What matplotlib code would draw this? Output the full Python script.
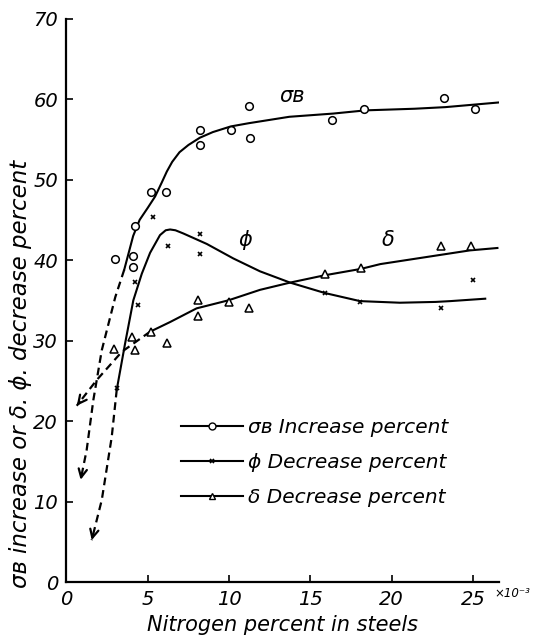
import matplotlib
matplotlib.use('Agg')
import matplotlib.pyplot as plt
from matplotlib.lines import Line2D

plt.rcParams['font.family'] = ['DejaVu Sans']
plt.rcParams['font.style'] = 'italic'

# Measured points (nitrogen x10^-3 %, percent change)
sb_x = [3.0, 4.1, 4.1, 4.2, 5.2, 6.1, 8.2, 8.2, 10.1, 11.2, 11.3, 16.3, 18.3, 23.2, 25.1]
sb_y = [40.1, 40.5, 39.2, 44.2, 48.4, 48.5, 56.1, 54.3, 56.2, 59.1, 55.2, 57.4, 58.8, 60.1, 58.8]

phi_x = [3.1, 4.2, 4.4, 5.35, 6.25, 8.2, 8.2, 15.9, 18.05, 23.05, 25.0]
phi_y = [24.1, 37.3, 34.4, 45.4, 41.7, 43.3, 40.8, 35.9, 34.8, 34.1, 37.5]

dl_x = [2.9, 4.05, 4.2, 5.2, 6.2, 8.1, 8.1, 10.0, 11.25, 15.9, 18.1, 23.05, 24.9]
dl_y = [28.9, 30.5, 28.8, 31.1, 29.7, 35.1, 33.0, 34.8, 34.0, 38.3, 39.0, 41.7, 41.7]

# Hand-fitted trend curves
sb_curve_x = [3.55, 4.1, 4.5, 5.0, 5.45, 5.85, 6.17, 6.5, 6.95, 7.5, 8.2, 9.0, 10.1, 11.2, 13.7, 16.4, 18.4, 21.4, 23.3, 26.7]
sb_curve_y = [38.8, 43.0, 45.0, 46.5, 47.9, 49.6, 51.0, 52.2, 53.4, 54.3, 55.2, 55.9, 56.6, 57.0, 57.8, 58.2, 58.6, 58.8, 59.0, 59.6]
sb_ext_x = [3.55, 3.0, 2.17, 1.65, 1.24, 0.87]
sb_ext_y = [38.8, 35.4, 28.8, 22.6, 16.4, 12.7]

phi_curve_x = [3.09, 3.6, 4.11, 4.63, 5.14, 5.75, 6.1, 6.37, 6.7, 7.19, 8.63, 10.26, 11.9, 13.75, 15.9, 18.05, 20.5, 22.7, 23.6, 25.75]
phi_curve_y = [23.9, 29.6, 35.0, 38.3, 40.9, 43.1, 43.7, 43.8, 43.7, 43.3, 42.0, 40.2, 38.6, 37.2, 35.9, 34.9, 34.7, 34.8, 34.9, 35.2]
phi_ext_x = [3.09, 2.78, 2.17, 1.55]
phi_ext_y = [23.9, 18.0, 10.2, 5.2]

dl_curve_x = [5.14, 6.37, 8.0, 9.96, 11.9, 13.75, 15.85, 18.1, 19.3, 24.8, 26.5]
dl_curve_y = [31.1, 32.3, 34.0, 35.0, 36.3, 37.2, 38.1, 38.9, 39.5, 41.2, 41.5]
dl_ext_x = [5.14, 3.4, 1.86, 0.63]
dl_ext_y = [31.1, 28.6, 25.1, 21.9]

legend_labels = ['σʙ Increase percent', 'ϕ Decrease percent', 'δ Decrease percent']

fig = plt.figure(figsize=(5.38, 6.41), dpi=100)
ax = fig.add_axes([0.1236, 0.092, 0.804, 0.879])

lw = 1.5
ax.plot(sb_curve_x, sb_curve_y, color='black', lw=lw)
ax.plot(phi_curve_x, phi_curve_y, color='black', lw=lw)
ax.plot(dl_curve_x, dl_curve_y, color='black', lw=lw)

# dashed extrapolations ending in open arrowheads
for ex, ey in [(sb_ext_x, sb_ext_y), (phi_ext_x, phi_ext_y), (dl_ext_x, dl_ext_y)]:
    ax.plot(ex, ey, color='black', lw=1.6, linestyle=(0, (3.5, 2.2)))
    ax.annotate('', xy=(ex[-1], ey[-1]),
                xytext=(ex[-1] + (ex[-2] - ex[-1]) * 0.15, ey[-1] + (ey[-2] - ey[-1]) * 0.15),
                arrowprops=dict(arrowstyle='->,head_width=0.3,head_length=0.6',
                                lw=1.6, color='black', shrinkA=0, shrinkB=0))

ax.plot(sb_x, sb_y, 'o', ms=5.5, mfc='white', mec='black', mew=1.1, linestyle='none')
ax.plot(phi_x, phi_y, 'x', ms=3.5, color='black', mew=1.2, linestyle='none')
ax.plot(dl_x, dl_y, '^', ms=5.5, mfc='white', mec='black', mew=1.1, linestyle='none')

ax.text(13.9, 60.4, 'σʙ', fontsize=15, ha='center', va='center')
ax.text(11.0, 42.5, 'ϕ', fontsize=15, ha='center', va='center')
ax.text(19.8, 42.5, 'δ', fontsize=15, ha='center', va='center')

handles = [
    Line2D([], [], color='black', lw=lw, marker='o', ms=5, mfc='white', mec='black'),
    Line2D([], [], color='black', lw=lw, marker='x', ms=3.5, mew=1.2),
    Line2D([], [], color='black', lw=lw, marker='^', ms=5, mfc='white', mec='black'),
]
ax.legend(handles, legend_labels, loc='upper left', bbox_to_anchor=(0.245, 0.305),
          frameon=False, fontsize=14.5, handlelength=3.1, handletextpad=0.25,
          labelspacing=0.8, numpoints=1, borderaxespad=0)

ax.set_xlim(0, 26.6)
ax.set_ylim(0, 70)
ax.set_xticks([0, 5, 10, 15, 20, 25])
ax.set_yticks([0, 10, 20, 30, 40, 50, 60, 70])
ax.tick_params(direction='in', length=5, width=1.2, labelsize=14, pad=6)
for s in ['top', 'right']:
    ax.spines[s].set_visible(False)
for s in ['left', 'bottom']:
    ax.spines[s].set_linewidth(1.6)

ax.text(0.99, -0.02, '×10⁻³', transform=ax.transAxes, fontsize=8.5,
        ha='left', va='center')
ax.set_xlabel('Nitrogen percent in steels', fontsize=15, labelpad=4)
ax.set_ylabel('σʙ increase or δ. ϕ. decrease percent', fontsize=16.5)
ax.yaxis.set_label_coords(-0.08, 0.37)

fig.savefig('out.png', dpi=100)
